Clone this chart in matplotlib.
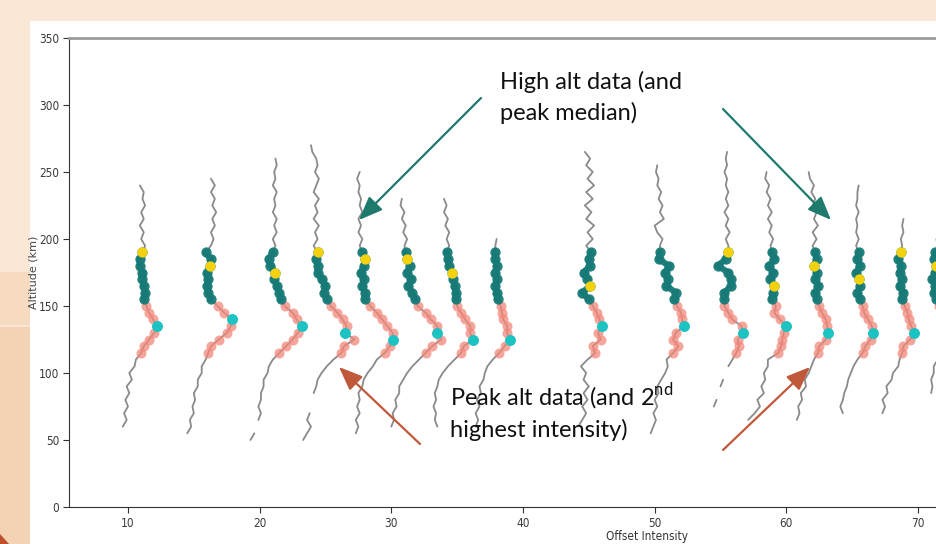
import numpy as np
import matplotlib
matplotlib.use('Agg')
import matplotlib.pyplot as plt
from matplotlib import rcParams, font_manager
from matplotlib.font_manager import FontProperties
from matplotlib.patches import Rectangle, Polygon, FancyArrowPatch

nan = np.nan

# Altitude grid shared by every profile (km)
altitude = [50, 55, 60, 65, 70, 75, 80, 85, 90, 95, 100, 105, 110, 115, 120,
            125, 130, 135, 140, 145, 150, 155, 160, 165, 170, 175, 180, 185,
            190, 195, 200, 205, 210, 215, 220, 225, 230, 235, 240, 245, 250,
            255, 260, 265, 270]

# Lowest altitude of each profile
bottom_alt = [60, 55, 50, 50, 55, 60, 60, 60, 60, 55, 75, 65, 65, 70, 70, 85]

# Offset intensity of each profile, one value per grid altitude from bottom_alt up
p01 = [9.6, 9.9, 9.7, 10.0, 9.8, 10.1, 9.9, 10.3, 10.1, 10.5, 10.6, 11.0, 11.2,
       11.6, 12.0, 12.2, 11.9, 11.6, 11.4, 11.2, 11.3, 11.2, 11.1, 11.1, 10.9,
       10.9, 11.1, 11.3, 11.0, 11.2, 10.9, 11.2, 11.0, 11.3, 11.1, 11.2, 10.9]
p02 = [14.5, 14.8, 14.7, 15.0, 14.9, 15.1, 15.0, 15.3, 15.3, 15.6, 15.6, 15.9,
       16.1, 16.3, 16.9, 17.5, 17.8, 17.9, 17.3, 16.8, 16.3, 16.1, 16.0, 16.1,
       16.0, 16.2, 16.3, 15.9, 16.3, 16.5, 16.3, 16.6, 16.4, 16.7, 16.4, 16.6,
       16.3, 16.6, 16.3]
p03 = [19.3, 19.6, nan, 19.9, 20.1, 19.9, 20.1, 20.1, 20.3, 20.3, 20.6, 20.7,
       21.0, 21.5, 22.0, 22.5, 22.9, 23.2, 22.8, 22.5, 21.9, 21.6, 21.5, 21.3,
       21.1, 21.2, 20.8, 20.7, 21.0, 21.2, 21.0, 21.3, 21.1, 21.3, 21.0, 21.2,
       21.1, 21.3, 21.0, 21.2, 21.1, 21.3, 21.2]
p04 = [23.3, 23.6, 23.9, 23.6, 23.8, nan, nan, 24.1, 24.3, 24.4, 24.7, 25.1,
       25.6, 26.2, 26.4, 27.2, 26.5, 26.6, 26.3, 25.9, 25.4, 25.1, 24.9, 25.0,
       24.7, 24.4, 24.4, 24.3, 24.4, 24.1, 24.4, 24.2, 24.5, 24.1, 24.4, 24.2,
       24.5, 24.1, 24.3, 24.5, 24.2, 24.4, 24.3, 24.0, 23.9]
p05 = [27.3, 27.5, 27.3, 27.6, 27.4, 27.6, 27.5, 27.8, 27.9, 28.2, 28.6, 28.9,
       29.5, 29.9, 30.1, 30.1, 29.7, 29.3, 28.9, 28.4, 28.0, 28.0, 27.8, 27.9,
       27.7, 27.9, 28.0, 27.8, 27.6, 27.8, 27.5, 27.7, 27.5, 27.8, 27.6, 27.7,
       27.5, 27.6, 27.4, 27.6]
p06 = [30.0, 30.2, 30.1, 30.4, 30.3, 30.6, 30.6, 30.9, 31.2, 31.6, 32.1, 32.6,
       33.1, 33.8, 33.5, 33.5, 33.0, 32.6, 32.0, 31.8, 31.6, 31.3, 31.5, 31.2,
       31.4, 31.2, 31.1, 31.0, 31.2, 30.9, 31.1, 30.8, 31.0, 30.7, 30.8]
p07 = [33.5, 33.3, 33.4, 33.2, 33.4, 33.3, 33.5, 33.6, 33.9, 34.3, 34.8, 35.3,
       35.5, 36.2, 36.0, 36.0, 35.6, 35.3, 35.0, 34.9, 34.9, 34.8, 34.7, 34.6,
       34.4, 34.3, 34.2, 34.4, 34.2, 34.4, 34.1, 34.3, 34.0, 34.2, 34.0]
p08 = [36.4, 36.6, 36.4, 36.7, 36.5, 36.8, 36.7, 37.0, 37.1, 37.3, 37.7, 38.2,
       38.6, 39.0, 38.8, 38.8, 38.5, 38.4, 38.3, 38.1, 38.0, 37.9, 38.0, 37.9,
       38.0, 37.9, 37.9, 37.9, 38.0]
p09 = [44.2, 44.5, 44.8, 44.5, 44.9, 44.6, 45.0, 44.6, 44.8, 44.4, 44.9, 45.5,
       45.3, 45.9, 45.7, 46.0, 45.8, 45.6, 45.3, 45.0, 44.5, 45.1, 44.9, 44.6,
       45.1, 45.0, 45.2, 44.8, 45.3, 44.9, 45.4, 44.8, 45.2, 44.7, 45.3, 44.8,
       45.4, 44.9, 45.3, 44.8, 45.1, 44.7]
p10 = [49.7, 49.9, 50.1, 49.9, 50.2, 50.0, 50.3, 50.2, 50.5, 50.8, 51.0, 50.9,
       51.4, 51.8, 51.4, 51.6, 52.2, 52.1, 52.0, 51.7, 51.5, 51.6, 50.9, 51.0,
       50.8, 51.1, 50.3, 50.4, 50.4, 50.6, 50.2, 50.0, 50.7, 50.4, 50.6, 50.3,
       50.5, 50.2, 50.3, 50.1, 50.2]
p11 = [54.5, 54.7, nan, 55.0, 55.2, nan, 55.6, 55.9, 56.2, 56.4, 56.3, 56.7,
       56.6, 55.9, 55.6, 55.3, 55.3, 55.3, 55.8, 55.8, 55.6, 54.8, 55.4, 55.6,
       55.6, 55.4, 55.7, 55.4, 55.6, 55.3, 55.6, 55.4, 55.6, 55.4, 55.5, 55.3,
       55.5, 55.4, 55.5]
p12 = [57.1, 57.6, 58.0, 57.8, 58.3, 58.1, 58.4, 58.3, 58.6, 58.6, 59.4, 59.6,
       59.7, 59.8, 60.0, 59.5, 59.1, 59.2, 58.9, 59.0, 59.05, 58.8, 59.0, 58.7,
       59.1, 58.9, 58.8, 59.0, 58.7, 58.9, 58.6, 58.9, 58.6, 58.8, 58.5, 58.7,
       58.4, 58.5]
p13 = [60.8, 61.0, 60.9, 61.2, 61.1, 61.5, 61.4, 61.7, 61.9, 62.1, 62.4, 62.5,
       63.0, 63.2, 63.1, 63.0, 62.7, 62.5, 62.3, 62.2, 62.4, 62.2, 62.3, 62.1,
       62.3, 62.2, 62.0, 62.3, 62.0, 62.4, 62.1, 62.3, 62.0, 62.2, 61.9, 62.1,
       61.8, 61.7]
p14 = [64.3, 64.1, 64.3, 64.4, 64.6, 64.7, 64.9, 65.1, 65.4, 65.8, 66.0, 66.4,
       66.6, 66.5, 66.2, 65.9, 65.8, 65.6, 65.4, 65.6, 65.5, 65.3, 65.6, 65.4,
       65.5, 65.3, 65.5, 65.3, 65.4, 65.3, 65.5, 65.3, 65.4, 65.4, 65.5]
p15 = [67.3, 67.5, 67.3, 67.7, 67.6, 68.0, 68.1, 68.5, 68.6, 68.8, 68.9, 69.4,
       69.7, 69.5, 69.3, 69.2, 69.0, 68.8, 68.9, 68.6, 68.8, 68.6, 68.7, 68.5,
       68.7, 68.8, 68.7, 68.9, 68.8, 68.9]
p16 = [71.0, 71.1, 71.0, 71.2, 71.2, 71.5, 71.8, 72.0, 72.4, 72.6, 72.4, 72.1,
       71.8, 71.6, 71.4, 71.2, 71.3, 71.1, 71.3, 71.4, 71.2, 71.3, 71.5, 71.4]
profiles = [p01, p02, p03, p04, p05, p06, p07, p08,
            p09, p10, p11, p12, p13, p14, p15, p16]

# Altitude of the intensity peak (cyan) and of the high-alt median (yellow)
peak_alt = [135, 140, 135, 130, 125, 130, 125, 125,
            135, 135, 130, 135, 130, 130, 130, 130]
median_alt = [190, 180, 175, 190, 185, 185, 175, nan,
              165, nan, 190, 165, 180, 170, 190, 180]

# Altitude windows for the marked data
peak_window = (115, 150)
high_window = (155, 190)

# Figure specs
W, H = 936, 544
PEACH = '#FAE7D5'
GRAY = '#8a8a8a'
SALMON = '#F3877A'
TEAL = '#177A77'
CYAN = '#1BC3C3'
YELLOW = '#F4D10D'
ARROW_TEAL = '#1F7A6E'
ARROW_RUST = '#C0583A'

rcParams['mathtext.fontset'] = 'custom'
rcParams['mathtext.rm'] = 'Lato'

# Narrow face for the tick labels if one is installed
narrow_file = None
for f in font_manager.fontManager.ttflist:
    if ('Narrow' in f.name or 'Condensed' in f.fname) and f.weight in (400, 'normal') \
            and f.style == 'normal':
        narrow_file = f.fname
        break
if narrow_file:
    tick_font = FontProperties(fname=narrow_file, size=8.5)
else:
    tick_font = FontProperties(family='DejaVu Sans', size=7.5)


def fx(px):
    return px / W


def fy(py):
    return 1 - py / H


fig = plt.figure(figsize=(W / 100, H / 100), dpi=100)
fig.patch.set_facecolor(PEACH)

# Slide background pieces (kept under the axes)
bg = dict(transform=fig.transFigure, lw=0, zorder=-10)
fig.add_artist(Rectangle((0, fy(325)), fx(30), fy(272) - fy(325),
                         color='#F7DBC0', **bg))
fig.add_artist(Rectangle((0, 0), fx(30), fy(327), color='#F4D3B5', **bg))
fig.add_artist(Polygon([(0, 0), (fx(9), 0), (0, fy(534))], closed=True,
                       color='#C0502A', **bg))
fig.add_artist(Rectangle((fx(30), 0), 1 - fx(30), fy(21), color='white', **bg))

ax = fig.add_axes([fx(69), fy(507), 1 - fx(69), fy(38) - fy(507)])
ax.set_facecolor('none')

alt_arr = np.array(altitude)
for i, vals in enumerate(profiles):
    start = altitude.index(bottom_alt[i])
    a = alt_arr[start:start + len(vals)]
    x = np.array(vals, dtype=float)

    ax.plot(x, a, color=GRAY, lw=1.3, zorder=2, solid_capstyle='round')

    pk = (a >= peak_window[0]) & (a <= peak_window[1]) & ~np.isnan(x)
    hi = (a >= high_window[0]) & (a <= high_window[1]) & ~np.isnan(x)
    ax.scatter(x[pk], a[pk], s=52, color=SALMON, alpha=0.75, lw=0, zorder=3)
    ax.plot(x[hi], a[hi], color=TEAL, lw=4.5, alpha=0.95, zorder=3,
            solid_capstyle='round')
    ax.scatter(x[hi], a[hi], s=55, color=TEAL, alpha=0.95, lw=0, zorder=3)

    cp = a == peak_alt[i]
    ax.scatter(x[cp], a[cp], s=62, color=CYAN, lw=0, zorder=4)
    md = a == median_alt[i]
    ax.scatter(x[md], a[md], s=55, color=YELLOW, lw=0, zorder=4)

# Axes styling
ax.set_xlim(5.52, 71.37)
ax.set_ylim(0, 350)
ax.set_xticks([10, 20, 30, 40, 50, 60, 70])
ax.set_yticks([0, 50, 100, 150, 200, 250, 300, 350])
ax.tick_params(length=4, width=0.8, color='#333333', labelcolor='#3a3a3a', pad=3)
for lab in ax.get_xticklabels() + ax.get_yticklabels():
    lab.set_fontproperties(tick_font)
ax.spines['right'].set_visible(False)
ax.spines['top'].set_color('#9a9a9a')
ax.spines['top'].set_linewidth(2)
ax.spines['left'].set_color('#333333')
ax.spines['bottom'].set_color('#333333')

ax.set_ylabel('Altitude (km)', fontsize=8, color='#444444')
ax.yaxis.set_label_coords((39 - 69) / (W - 69), 0.5)
fig.text(fx(647), fy(543), 'Offset Intensity', ha='center', va='bottom',
         fontproperties=tick_font, color='#333333')

# Slide annotations
txt = dict(fontsize=17, family='Lato', color='#111111', va='baseline', zorder=10)
fig.text(fx(500), fy(89), 'High alt data (and', **txt)
fig.text(fx(500), fy(120), 'peak median)', **txt)
fig.text(fx(450), fy(405), 'Peak alt data (and 2$^{\\mathrm{nd}}$', **txt)
fig.text(fx(450), fy(437), 'highest intensity)', **txt)

arrows = [((481, 98), (359, 220), ARROW_TEAL),
          ((723, 109), (831, 220), ARROW_TEAL),
          ((420, 444), (339, 367), ARROW_RUST),
          ((723, 450), (810, 367), ARROW_RUST)]
for (x0, y0), (x1, y1), c in arrows:
    fig.add_artist(FancyArrowPatch(
        (fx(x0), fy(y0)), (fx(x1), fy(y1)), transform=fig.transFigure,
        arrowstyle='-|>,head_length=0.72,head_width=0.29', mutation_scale=20,
        color=c, lw=1.6, shrinkA=0, shrinkB=0, zorder=10))

fig.savefig('out.png', dpi=100, facecolor=fig.get_facecolor())
